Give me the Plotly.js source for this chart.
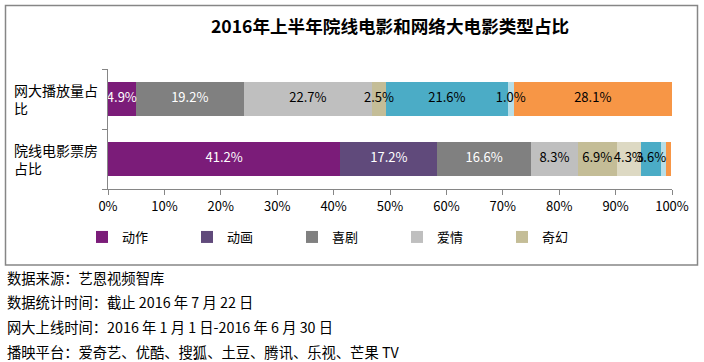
<!DOCTYPE html>
<html>
<head>
<meta charset="utf-8">
<script src="https://cdn.plot.ly/plotly-3.0.1.min.js"></script>
<style>
html,body{margin:0;padding:0;background:#fff;}
#chart{width:704px;height:362px;}
</style>
</head>
<body>
<div id="chart"></div>
<script>
// ---- data ----
const categories = ['网大播放量占比', '院线电影票房占比'];
const categoryLabels = ['网大播放量占<br>比', '院线电影票房<br>占比'];
const genres = ['动作', '动画', '喜剧', '爱情', '奇幻', '惊悚', '悬疑', '科幻', '其他'];
const webShare = [4.9, 0, 19.2, 22.7, 2.5, 0, 21.6, 1.0, 28.1];
const theaterShare = [41.2, 17.2, 16.6, 8.3, 6.9, 4.3, 3.6, 0.9, 0.9];
const legendGenres = ['动作', '动画', '喜剧', '爱情', '奇幻'];
const xTicks = [0, 10, 20, 30, 40, 50, 60, 70, 80, 90, 100];
const title = '2016年上半年院线电影和网络大电影类型占比';
const notes = [
  '数据来源：艺恩视频智库',
  '数据统计时间：截止 2016 年 7 月 22 日',
  '网大上线时间：2016 年 1 月 1 日-2016 年 6 月 30 日',
  '播映平台：爱奇艺、优酷、搜狐、土豆、腾讯、乐视、芒果 TV'
];

// ---- styles ----
const colors = ['#7B1C79', '#604A7B', '#808080', '#BFBFBF', '#C4BD97', '#DDD9C3', '#4BACC6', '#B7DEE8', '#F79646'];
const textColors = ['#ffffff', '#ffffff', '#ffffff', '#000000', '#000000', '#000000', '#000000', '#000000', '#000000'];
const FONT = '"Noto Sans CJK SC", "Microsoft YaHei", sans-serif';

// plot area pixel geometry
const L = 108, R = 32, T = 69, B = 173;
const W = 704 - L - R, H = 362 - T - B;
const px2x = p => (p - L) / W;
const py2y = p => (362 - B - p) / H;

const series = genres.map((g, i) => [webShare[i], theaterShare[i]]);

const barTraces = genres.map((g, i) => ({
  type: 'bar',
  orientation: 'h',
  name: g,
  y: categories,
  x: series[i],
  textposition: 'none',
  marker: {color: colors[i], line: {width: 0}},
  width: 0.58,
  showlegend: legendGenres.includes(g),
  hoverinfo: 'name+x'
}));

// data labels drawn on top of all bars, centred on each stacked segment
const lx = [], ly = [], lt = [], lc = [];
categories.forEach((c, ci) => {
  let base = 0;
  genres.forEach((g, gi) => {
    const v = series[gi][ci];
    if (v >= 1.0) {
      lx.push(base + v / 2); ly.push(c); lt.push(v.toFixed(1) + '%'); lc.push(textColors[gi]);
    }
    base += v;
  });
});
const labelTrace = {
  type: 'scatter', mode: 'text', x: lx, y: ly, text: lt,
  textposition: 'middle center',
  textfont: {family: FONT, size: 13, color: lc},
  showlegend: false, hoverinfo: 'skip', cliponaxis: false
};

const annotations = [];
categories.forEach((c, i) => {
  annotations.push({
    xref: 'paper', yref: 'y', x: px2x(12), y: c,
    xanchor: 'left', yanchor: 'middle', align: 'left',
    text: categoryLabels[i], showarrow: false,
    font: {family: FONT, size: 14, color: '#000'}
  });
});
const noteY = [277, 301, 326, 351];
notes.forEach((t, i) => {
  annotations.push({
    xref: 'paper', yref: 'paper', x: px2x(5), y: py2y(noteY[i]),
    xanchor: 'left', yanchor: 'middle', align: 'left',
    text: t, showarrow: false,
    font: {family: FONT, size: 14.3, color: '#000'}
  });
});

const layout = {
  width: 704, height: 362,
  margin: {l: L, r: R, t: T, b: B, pad: 0},
  paper_bgcolor: '#ffffff', plot_bgcolor: '#ffffff',
  barmode: 'stack',
  font: {family: FONT, size: 13, color: '#000'},
  title: {
    text: title, xref: 'paper', x: 0.5, xanchor: 'center',
    yref: 'container', y: 1 - 27 / 362, yanchor: 'middle',
    font: {family: FONT, size: 17.6, color: '#000', weight: 'bold'}
  },
  xaxis: {
    range: [0, 100], tickvals: xTicks, ticktext: xTicks.map(v => v + '%'),
    showgrid: false, zeroline: false,
    showline: true, linecolor: '#868686', linewidth: 1,
    ticks: 'outside', ticklen: 5, tickcolor: '#868686',
    tickfont: {family: FONT, size: 13, color: '#000'},
    fixedrange: true
  },
  yaxis: {
    type: 'category', categoryorder: 'array', categoryarray: categories.slice().reverse(),
    range: [-0.5, 1.5],
    showgrid: false, zeroline: false, showticklabels: false,
    showline: true, linecolor: '#868686', linewidth: 1,
    ticks: 'outside', ticklen: 5, tickcolor: '#868686', tickson: 'boundaries',
    fixedrange: true
  },
  legend: {
    orientation: 'h', x: px2x(82), xanchor: 'left', y: py2y(237), yanchor: 'middle',
    entrywidth: 60, entrywidthmode: 'pixels', traceorder: 'normal',
    font: {family: FONT, size: 13, color: '#000'},
    bgcolor: 'rgba(0,0,0,0)'
  },
  shapes: [{
    type: 'rect', xref: 'paper', yref: 'paper',
    x0: px2x(5.5), x1: px2x(697.5), y0: py2y(265), y1: py2y(5.5),
    line: {color: '#868686', width: 1.5}, fillcolor: 'rgba(0,0,0,0)', layer: 'below'
  }],
  annotations: annotations
};

Plotly.newPlot('chart', barTraces.concat([labelTrace]), layout, {displayModeBar: false, staticPlot: true});
</script>
</body>
</html>
